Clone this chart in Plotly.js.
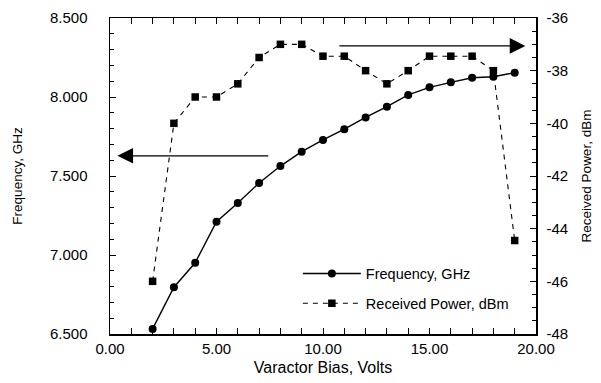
<!DOCTYPE html>
<html>
<head>
<meta charset="utf-8">
<script src="https://cdn.plot.ly/plotly-3.0.1.min.js"></script>
<style>html,body{margin:0;padding:0;background:#fff;}#chart{width:601px;height:383px;}</style>
</head>
<body>
<div id="chart"></div>
<script>
const biasVolts = [2,3,4,5,6,7,8,9,10,11,12,13,14,15,16,17,18,19];
const frequencyGHz = [6.532,6.796,6.951,7.211,7.329,7.456,7.563,7.654,7.728,7.796,7.871,7.939,8.013,8.061,8.093,8.122,8.128,8.154];
const receivedPowerDBm = [-46.0,-40.0,-39.0,-39.0,-38.5,-37.5,-37.0,-37.0,-37.45,-37.45,-38.0,-38.5,-38.0,-37.45,-37.45,-37.45,-38.0,-44.45];
const xTickVals = [0,5,10,15,20];
const xTickText = ["0.00","5.00","10.00","15.00","20.00"];
const yTickVals = [6.5,7.0,7.5,8.0,8.5];
const yTickText = ["6.500","7.000","7.500","8.000","8.500"];
const y2TickVals = [-48,-46,-44,-42,-40,-38,-36];
const y2TickText = ["-48","-46","-44","-42","-40","-38","-36"];

const font = "Liberation Sans, Arial, Helvetica, sans-serif";

const traces = [
  {
    x: biasVolts, y: frequencyGHz, name: "Frequency, GHz",
    type: "scatter", mode: "lines+markers", yaxis: "y", legendgroup: "a",
    line: {color: "#000", width: 1.4},
    marker: {symbol: "circle", size: 8, color: "#000"}
  },
  {
    x: biasVolts, y: receivedPowerDBm, name: "Received Power, dBm",
    type: "scatter", mode: "lines+markers", yaxis: "y2", legendgroup: "b",
    line: {color: "#000", width: 1.1, dash: "5px,5px"},
    marker: {symbol: "square", size: 7.5, color: "#000"}
  }
];

const layout = {
  width: 601, height: 383,
  margin: {l: 110, r: 65, t: 18, b: 49},
  paper_bgcolor: "#fff", plot_bgcolor: "#fff",
  font: {family: font, color: "#000", size: 15},
  showlegend: true,
  legend: {
    x: 0.441, y: 0.242, xanchor: "left", yanchor: "top",
    bgcolor: "rgba(0,0,0,0)", borderwidth: 0,
    font: {size: 14.5, family: font},
    itemwidth: 58, tracegroupgap: 8, traceorder: "grouped"
  },
  xaxis: {
    range: [0, 20], showgrid: false, zeroline: false,
    showline: true, linecolor: "#000", linewidth: 1.5, mirror: "allticks",
    ticks: "inside", ticklen: 6, tickcolor: "#000", tickwidth: 1,
    tickvals: xTickVals, ticktext: xTickText,
    minor: {dtick: 1, ticks: "inside", ticklen: 4, tickcolor: "#000", showgrid: false},
    tickfont: {size: 15},
    title: {text: "Varactor Bias, Volts", font: {size: 16}, standoff: 6}
  },
  yaxis: {
    range: [6.5, 8.5], showgrid: false, zeroline: false,
    showline: true, linecolor: "#000", linewidth: 1.5,
    ticks: "inside", ticklen: 6, tickcolor: "#000", tickwidth: 1,
    tickvals: yTickVals, ticktext: yTickText,
    minor: {dtick: 0.1, ticks: "inside", ticklen: 4, tickcolor: "#000", showgrid: false},
    ticklabelstandoff: 18,
    tickfont: {size: 15},
    title: {text: "Frequency, GHz", font: {size: 13.5}, standoff: 24}
  },
  yaxis2: {
    overlaying: "y", side: "right",
    range: [-48, -36], showgrid: false, zeroline: false,
    showline: true, linecolor: "#000", linewidth: 1.5,
    ticks: "inside", ticklen: 6, tickcolor: "#000", tickwidth: 1,
    tickvals: y2TickVals, ticktext: y2TickText,
    minor: {dtick: 0.5, ticks: "inside", ticklen: 4, tickcolor: "#000", showgrid: false},
    ticklabelstandoff: 6,
    tickfont: {size: 15},
    title: {text: "Received Power, dBm", font: {size: 13.5}, standoff: 14}
  },
  annotations: [
    {
      xref: "x", yref: "y", axref: "x", ayref: "y",
      x: 0.35, y: 7.628, ax: 7.5, ay: 7.628, text: "",
      showarrow: true, arrowhead: 2, arrowsize: 2.4, arrowwidth: 1.3, arrowcolor: "#000", standoff: 0
    },
    {
      xref: "x", yref: "y2", axref: "x", ayref: "y2",
      x: 19.5, y: -37.06, ax: 10.7, ay: -37.06, text: "",
      showarrow: true, arrowhead: 2, arrowsize: 2.4, arrowwidth: 1.3, arrowcolor: "#000", standoff: 0
    }
  ]
};

Plotly.newPlot("chart", traces, layout, {displayModeBar: false, staticPlot: true});
</script>
</body>
</html>
